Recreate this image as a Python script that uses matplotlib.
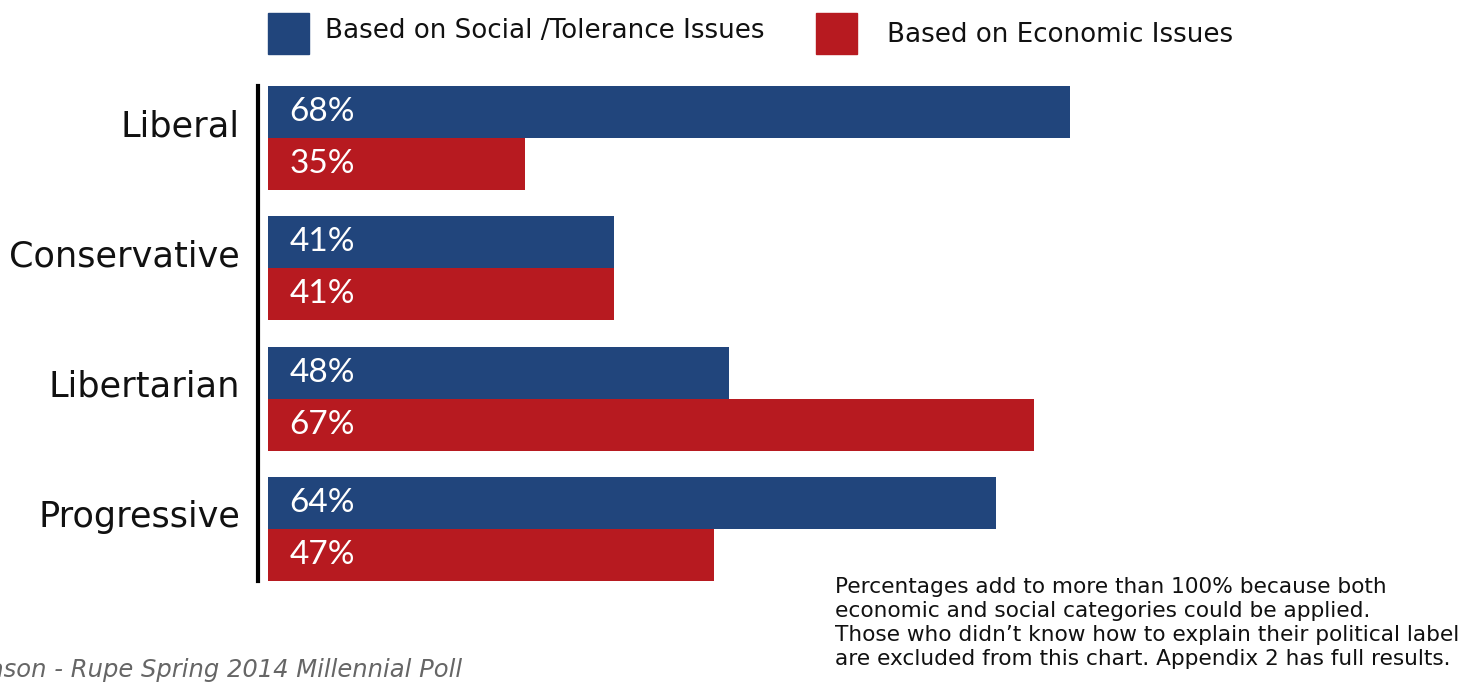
import matplotlib
matplotlib.use("Agg")
import matplotlib.pyplot as plt
from matplotlib.transforms import blended_transform_factory
from matplotlib.patches import Rectangle

# data
groups = ["Liberal", "Conservative", "Libertarian", "Progressive"]
social_labels = [68, 41, 48, 64]
economic_labels = [35, 41, 67, 47]
# bar lengths as drawn in the original (not proportional to the labels)
social_len = [68, 29.3, 39.1, 61.7]
economic_len = [21.8, 29.3, 64.9, 37.8]
series_names = ["Based on Social /Tolerance Issues", "Based on Economic Issues"]

BLUE = "#21457c"
RED = "#b71a20"
W, H = 1482, 684

fig = plt.figure(figsize=(W / 100, H / 100), dpi=100)
ax = fig.add_axes([258 / W, 103 / H, 1 - 258 / W, 495 / H])

bh = 0.4
for i, g in enumerate(groups):
    ax.barh(i - bh / 2, social_len[i], height=bh, color=BLUE, left=0)
    ax.barh(i + bh / 2, economic_len[i], height=bh, color=RED, left=0)
    ax.text(1.8, i - bh / 2, f"{social_labels[i]}%", color="white",
            fontsize=24, va="center", ha="left", family="Lato")
    ax.text(1.8, i + bh / 2, f"{economic_labels[i]}%", color="white",
            fontsize=24, va="center", ha="left", family="Lato")

ax.set_xlim(-0.85, 102.9)
ax.set_ylim(3.4, -0.4)
ax.set_xticks([])
ax.set_yticks([])
for s in ["top", "right", "bottom"]:
    ax.spines[s].set_visible(False)
ax.spines["left"].set_linewidth(3)
ax.spines["left"].set_color("black")

# category labels on the left
tr = blended_transform_factory(fig.transFigure, ax.transData)
for i, g in enumerate(groups):
    ax.text(240 / W, i - 0.09, g, transform=tr, ha="right", va="center",
            fontsize=25.3, color="#111111")

# legend drawn by hand at the top
fig.patches.append(Rectangle((268 / W, 1 - 54 / H), 41 / W, 41 / H,
                             transform=fig.transFigure, color=BLUE))
fig.patches.append(Rectangle((816 / W, 1 - 54 / H), 41 / W, 41 / H,
                             transform=fig.transFigure, color=RED))
fig.text(325 / W, 1 - 31 / H, series_names[0], fontsize=18.8, va="center",
         ha="left", color="#111111")
fig.text(887 / W, 1 - 35 / H, series_names[1], fontsize=18.8, va="center",
         ha="left", color="#111111")

note = ("Percentages add to more than 100% because both\n"
        "economic and social categories could be applied.\n"
        "Those who didn\u2019t know how to explain their political label\n"
        "are excluded from this chart. Appendix 2 has full results.")
fig.text(835 / W, 1 - 577 / H, note, fontsize=15.6, va="top", ha="left",
         linespacing=1.25, color="#111111")

# source line runs off the left edge, as in the original
fig.text(462 / W, 1 - 670 / H, "Reason - Rupe Spring 2014 Millennial Poll",
         fontsize=17.5, style="italic", color="#666666", ha="right", va="center")

fig.savefig("out.png", dpi=100)
